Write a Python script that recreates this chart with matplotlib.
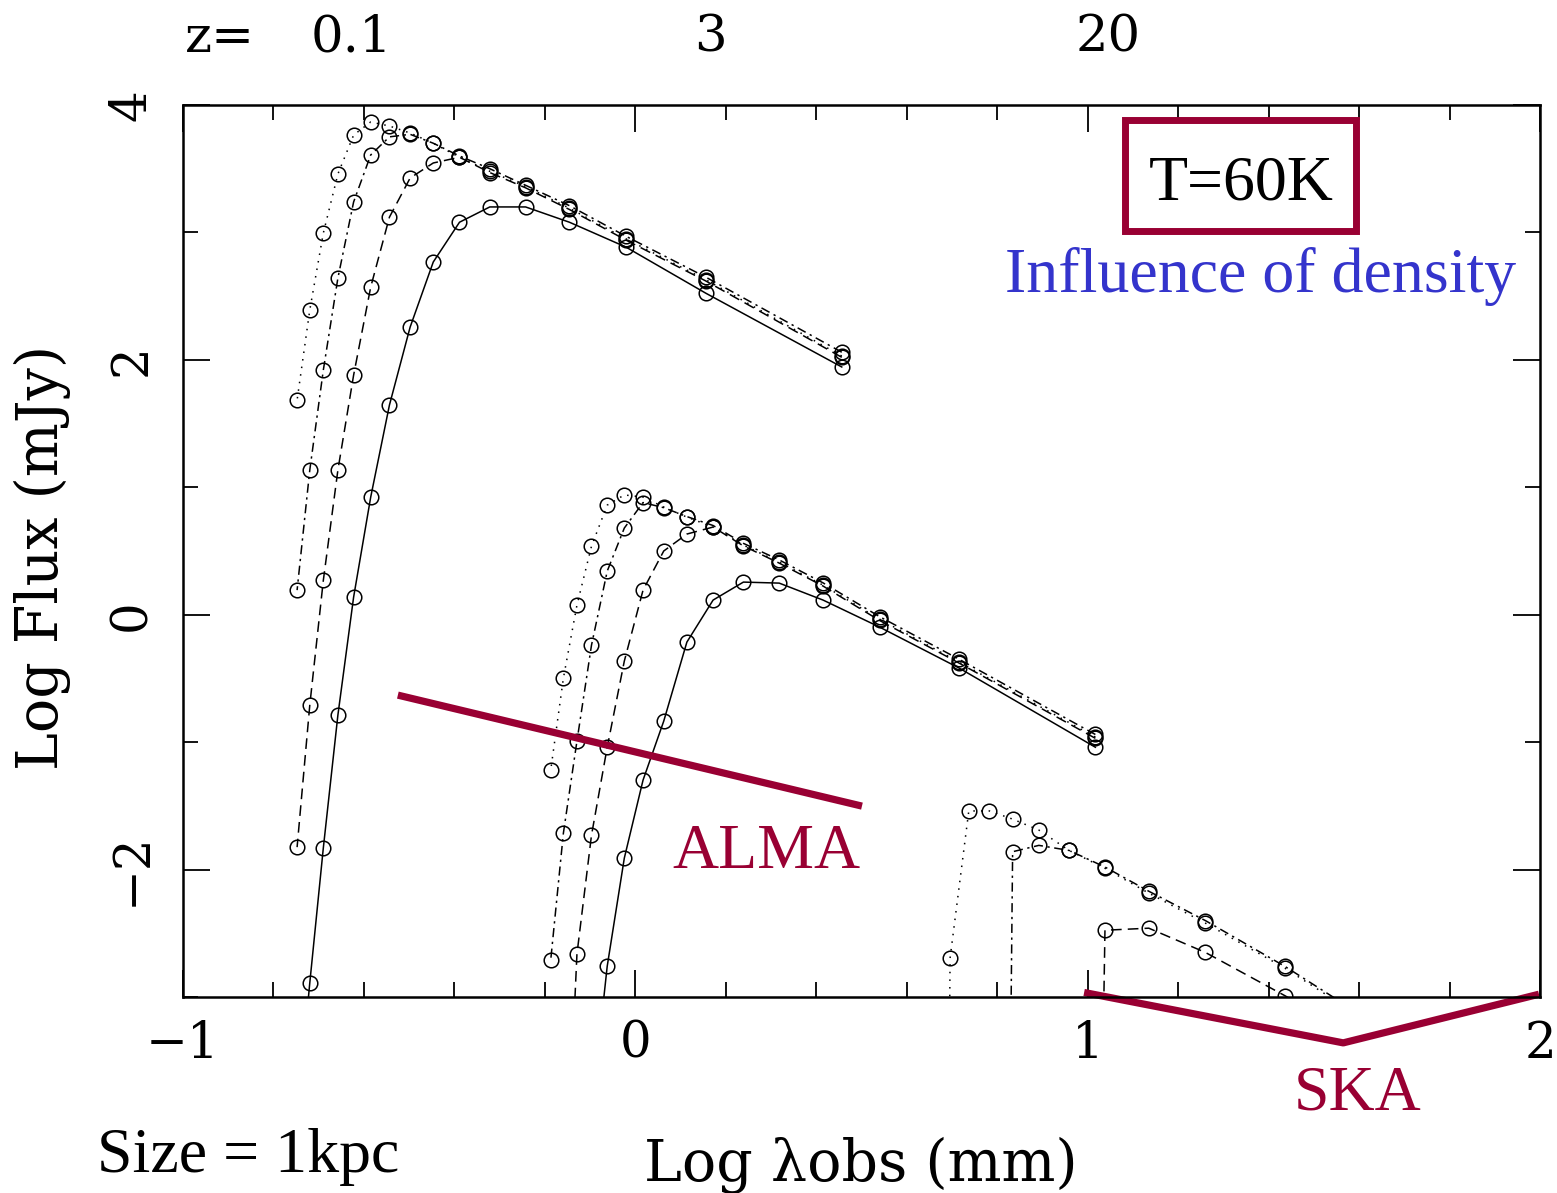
import matplotlib.pyplot as plt
import numpy as np
from matplotlib.patches import Rectangle

# CO rotational ladder, upper level J = 1..16, rest wavelength 2.6 mm / J
j_upper = np.arange(1, 17)
lam_co10 = 2.6  # mm
redshifts = [0.1, 3, 20]
z_text = ['0.1', '3', '20']

# log flux (mJy) for J = 1..16, four densities per redshift
# (-20 marks lines with no emission: the curve drops off the bottom of the plot)
z01_dot     = [2.03, 2.63, 2.95, 3.19, 3.36, 3.48, 3.59, 3.70, 3.78, 3.835, 3.867, 3.764, 3.458, 2.995, 2.391, 1.684]
z01_dashdot = [2.06, 2.65, 2.97, 3.21, 3.37, 3.50, 3.60, 3.70, 3.77, 3.75, 3.608, 3.239, 2.642, 1.92, 1.135, 0.193]
z01_dash    = [2.02, 2.62, 2.94, 3.18, 3.35, 3.47, 3.59, 3.545, 3.427, 3.12, 2.571, 1.88, 1.135, 0.27, -0.71, -1.824]
z01_solid   = [1.944, 2.524, 2.885, 3.08, 3.20, 3.20, 3.08, 2.768, 2.257, 1.645, 0.923, 0.138, -0.788, -1.83, -2.89, -3.95]

z3_dot      = [-0.96, -0.372, -0.035, 0.232, 0.413, 0.546, 0.688, 0.766, 0.845, 0.923, 0.94, 0.86, 0.538, 0.075, -0.498, -1.22]
z3_dashdot  = [-0.94, -0.35, -0.015, 0.25, 0.43, 0.56, 0.70, 0.77, 0.84, 0.88, 0.68, 0.342, -0.239, -0.992, -1.714, -2.711]
z3_dash     = [-0.97, -0.38, -0.045, 0.225, 0.405, 0.54, 0.688, 0.633, 0.5, 0.193, -0.364, -1.04, -1.73, -2.664, -5.0, -7.0]
z3_solid    = [-1.04, -0.419, -0.097, 0.115, 0.248, 0.256, 0.115, -0.215, -0.835, -1.298, -1.91, -2.758, -3.9, -5.0, -6.0, -7.0]

z20_dot     = [-3.46, -2.774, -2.42, -2.185, -1.99, -1.85, -1.69, -1.604, -1.54, -1.54, -2.695, -20, -20, -20, -20, -20]
z20_dashdot = [-3.44, -2.76, -2.40, -2.17, -1.98, -1.85, -1.81, -1.86, -20, -20, -20, -20, -20, -20, -20, -20]
z20_dash    = [-3.6, -2.99, -2.65, -2.46, -2.476, -20, -20, -20, -20, -20, -20, -20, -20, -20, -20, -20]

styles = {
    'dot': (0, (1, 4)),
    'dashdot': (0, (6, 3, 1.5, 3)),
    'dash': (0, (7, 4)),
    'solid': '-',
}

curves = [
    (0.1, 'dot', z01_dot), (0.1, 'dashdot', z01_dashdot), (0.1, 'dash', z01_dash), (0.1, 'solid', z01_solid),
    (3, 'dot', z3_dot), (3, 'dashdot', z3_dashdot), (3, 'dash', z3_dash), (3, 'solid', z3_solid),
    (20, 'dot', z20_dot), (20, 'dashdot', z20_dashdot), (20, 'dash', z20_dash),
]

maroon = '#990033'
blue = '#3434cc'
sm_font = 'DejaVu Serif'
tm_font = 'Liberation Serif'

W, H = 1557, 1193
fig = plt.figure(figsize=(W / 100, H / 100), dpi=100)
ax = fig.add_axes([183 / W, 1 - 997 / H, (1540 - 183) / W, (997 - 105) / H])

for z, st, flux in curves:
    x = np.log10(lam_co10 / j_upper * (1 + z))
    ax.plot(x, flux, color='k', lw=1.1, ls=styles[st], marker='o', ms=10.5,
            mfc='none', mec='k', mew=1.1)

ax.set_xlim(-1, 2)
ax.set_ylim(-3, 4)
ax.set_xticks([-1, 0, 1, 2])
ax.set_xticks(np.arange(-1, 2.01, 0.2), minor=True)
ax.set_yticks([-2, 0, 2, 4])
ax.set_yticks([-3, -1, 1, 3], minor=True)
ax.tick_params(which='both', direction='in', top=True, right=True, width=1.3)
ax.tick_params(which='major', length=19.5)
ax.tick_params(which='minor', length=11)
ax.tick_params(axis='x', which='major', pad=16)
ax.tick_params(axis='y', which='major', pad=19)
ax.set_xticklabels(['\u22121', '0', '1', '2'], fontsize=36, family=sm_font)
ax.set_yticklabels(['\u22122', '0', '2', '4'], fontsize=36, family=sm_font,
                   rotation=90, va='center')
for s in ax.spines.values():
    s.set_linewidth(1.8)

fig.text(42 / W, 1 - 557 / H, 'Log Flux (mJy)', rotation=90, ha='center', va='center',
         fontsize=41, family=sm_font)
fig.text(861 / W, 1 - 1165 / H, 'Log \u03bbobs (mm)', ha='center', va='center',
         fontsize=41, family=sm_font)

# redshift labels along the top
fig.text(185 / W, 1 - 52 / H, 'z=', ha='left', va='baseline', fontsize=37, family=sm_font)
for xc, lab in zip([351, 710, 1108], z_text):
    fig.text(xc / W, 1 - 52 / H, lab, ha='center', va='baseline', fontsize=37, family=sm_font)

# ALMA and SKA wavelength ranges
ax.plot([-0.525, 0.501], [-0.631, -1.502], color=maroon, lw=5.2, solid_capstyle='butt', clip_on=False)
ax.plot([1.0, 1.565, 1.99], [-2.97, -3.36, -2.985], color=maroon, lw=5.2, clip_on=False)
fig.text(766 / W, 1 - 868 / H, 'ALMA', ha='center', va='baseline', fontsize=46,
         family=tm_font, color=maroon)
fig.text(1358 / W, 1 - 1110 / H, 'SKA', ha='center', va='baseline', fontsize=46,
         family=tm_font, color=maroon)

# annotation box
fig.add_artist(Rectangle((1125 / W, 1 - 231 / H), (1356 - 1125) / W, (231 - 120) / H,
                         transform=fig.transFigure, fill=False, ec=maroon, lw=5))
fig.text(1241 / W, 1 - 200 / H, 'T=60K', ha='center', va='baseline', fontsize=46, family=tm_font)
fig.text(1261 / W, 1 - 292 / H, 'Influence of density', ha='center', va='baseline',
         fontsize=46, family=tm_font, color=blue)
fig.text(97 / W, 1 - 1172 / H, 'Size = 1kpc', ha='left', va='baseline', fontsize=46, family=tm_font)

fig.savefig('out.png', dpi=100)
